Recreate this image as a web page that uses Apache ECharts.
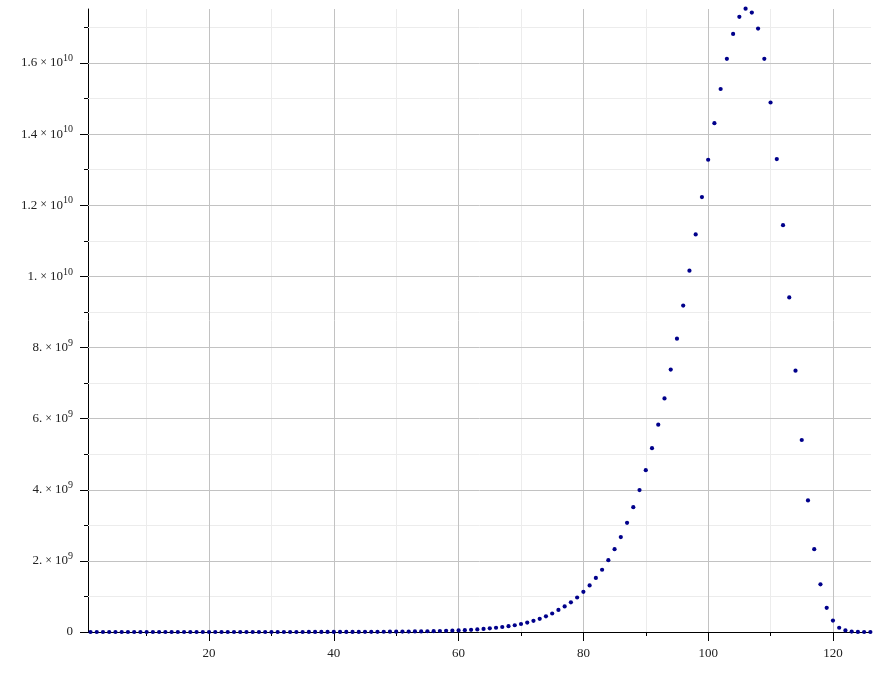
<!DOCTYPE html>
<html><head><meta charset="utf-8">
<script src="https://cdn.jsdelivr.net/npm/echarts@6/dist/echarts.min.js"></script>
<style>html,body{margin:0;padding:0;background:#fff}#c{width:878px;height:680px}</style>
</head><body><div id="c"></div>
<script>
// x = 1..126 (index + 1); values in units of 1e9
const yValues = [
  0,0,0,0,0,0,0,0,0,0,0,0,0,0,0,0,0,0,0,
  0.00001,0.000015,0.00002,0.00003,0.00004,0.00005,0.00007,0.00009,0.00012,0.00016,
  0.0002,0.00026,0.00033,0.00042,0.00052,0.00065,0.0008,0.001,0.0012,0.0015,
  0.0018,0.0021,0.0025,0.003,0.0035,0.0042,0.0049,0.0058,0.0068,0.008,
  0.0094,0.011,0.0128,0.015,0.0175,0.0205,0.024,0.028,0.0325,0.038,
  0.045,0.052,0.061,0.073,0.087,0.102,0.12,0.14,0.163,0.19,
  0.225,0.265,0.315,0.37,0.44,0.52,0.62,0.72,0.835,0.97,
  1.13,1.31,1.52,1.75,2.02,2.33,2.67,3.07,3.51,3.99,
  4.55,5.17,5.83,6.57,7.38,8.25,9.18,10.16,11.18,12.23,
  13.28,14.31,15.27,16.12,16.82,17.30,17.53,17.42,16.97,16.12,
  14.89,13.30,11.44,9.41,7.35,5.40,3.70,2.33,1.34,0.68,
  0.32,0.12,0.045,0.012,0.003,0.0005,0.0001
];
const xStart = 1;
const xTickValues = [20,40,60,80,100,120];
const xMinorTickValues = [10,30,50,70,90,110];
const yTickValues = [0,2,4,6,8,10,12,14,16];
const yTickMantissas = ['0','2.','4.','6.','8.','1.','1.2','1.4','1.6'];
const yTickExponents = ['','9','9','9','9','10','10','10','10'];
const yMinorTickValues = [1,3,5,7,9,11,13,15,17];

const FONT = '"Liberation Serif","DejaVu Serif",serif';
const TXT = '#222';
const MAJOR = '#c2c2c2';
const MINOR = '#ececec';
const X_MIN = 0.6, X_MAX = 126.1, Y_MIN = 0, Y_MAX = 17.52;

const points = yValues.map((v, i) => [i + xStart, v]);

const gridLines = [];
xMinorTickValues.forEach(v => gridLines.push({xAxis: v, lineStyle: {color: MINOR, width: 1, type: 'solid'}}));
yMinorTickValues.forEach(v => gridLines.push({yAxis: v, lineStyle: {color: MINOR, width: 1, type: 'solid'}}));
xTickValues.forEach(v => gridLines.push({xAxis: v, lineStyle: {color: MAJOR, width: 1, type: 'solid'}}));
yTickValues.filter(v => v > 0).forEach(v => gridLines.push({yAxis: v, lineStyle: {color: MAJOR, width: 1, type: 'solid'}}));

function yLabel(v) {
  const i = yTickValues.indexOf(v);
  if (i < 0) return '';
  if (!yTickExponents[i]) return '{m|' + yTickMantissas[i] + '}';
  return '{m|' + yTickMantissas[i] + '}{x| × }{m|10}{s|' + yTickExponents[i] + '}';
}

const chart = echarts.init(document.getElementById('c'), null, {renderer: 'canvas'});
chart.setOption({
  animation: false,
  backgroundColor: '#fff',
  grid: {left: 88, right: 7, top: 9, bottom: 48, containLabel: false},
  xAxis: [
    {
      type: 'value', min: X_MIN, max: X_MAX,
      axisLine: {show: true, onZero: false, lineStyle: {color: '#000', width: 1}},
      axisTick: {show: true, inside: false, length: 9, customValues: xTickValues, lineStyle: {color: '#000', width: 1}},
      axisLabel: {show: true, customValues: xTickValues, margin: 15, fontFamily: FONT, fontSize: 13, color: TXT},
      splitLine: {show: false}
    },
    {
      type: 'value', min: X_MIN, max: X_MAX, position: 'bottom',
      axisLine: {show: false},
      axisTick: {show: true, inside: false, length: 4, customValues: xMinorTickValues, lineStyle: {color: '#000', width: 1}},
      axisLabel: {show: false},
      splitLine: {show: false}
    }
  ],
  yAxis: [
    {
      type: 'value', min: Y_MIN, max: Y_MAX,
      axisLine: {show: true, onZero: false, lineStyle: {color: '#000', width: 1}},
      axisTick: {show: true, inside: false, length: 8, customValues: yTickValues, lineStyle: {color: '#000', width: 1}},
      axisLabel: {
        show: true, customValues: yTickValues, margin: 15, formatter: yLabel,
        rich: {
          m: {fontFamily: FONT, fontSize: 13, color: TXT},
          x: {fontFamily: FONT, fontSize: 12, color: TXT},
          s: {fontFamily: FONT, fontSize: 10, color: TXT, padding: [0, 0, 9, 0]}
        }
      },
      splitLine: {show: false}
    },
    {
      type: 'value', min: Y_MIN, max: Y_MAX, position: 'left',
      axisLine: {show: false},
      axisTick: {show: true, inside: false, length: 4, customValues: yMinorTickValues, lineStyle: {color: '#000', width: 1}},
      axisLabel: {show: false},
      splitLine: {show: false}
    }
  ],
  series: [
    {
      type: 'scatter', xAxisIndex: 0, yAxisIndex: 0, data: [], z: 1, silent: true,
      markLine: {silent: true, symbol: ['none', 'none'], label: {show: false}, animation: false, data: gridLines}
    },
    {
      type: 'scatter', xAxisIndex: 0, yAxisIndex: 0, data: points, z: 5, clip: false,
      symbol: 'circle', symbolSize: 4.2,
      itemStyle: {color: '#00008b', opacity: 1}
    }
  ]
});
</script></body></html>
